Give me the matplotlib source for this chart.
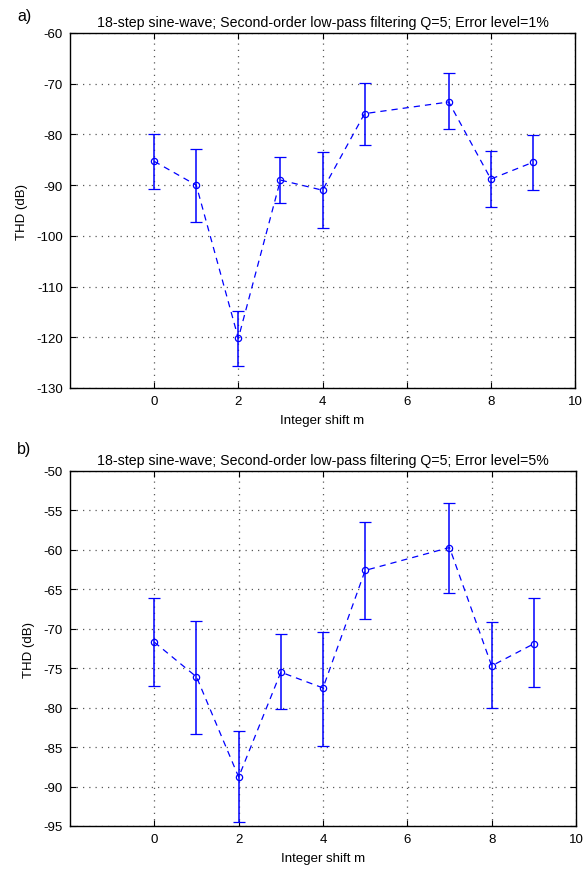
import numpy as np
import matplotlib.pyplot as plt

plt.rcParams['font.family'] = ['Liberation Sans', 'DejaVu Sans']
plt.rcParams['axes.unicode_minus'] = False

# Integer shift m
m = np.array([0, 1, 2, 3, 4, 5, 7, 8, 9])

# a) Error level 1%
thd_a = np.array([-85.3, -90.0, -120.2, -89.0, -91.0, -75.9, -73.6, -88.8, -85.5])
hi_a = np.array([-79.9, -82.9, -114.8, -84.5, -83.5, -69.8, -67.9, -83.3, -80.1])
lo_a = np.array([-90.8, -97.3, -125.7, -93.6, -98.5, -82.1, -79.0, -94.3, -91.0])

# b) Error level 5%
thd_b = np.array([-71.7, -76.1, -88.8, -75.5, -77.5, -62.6, -59.7, -74.7, -71.9])
hi_b = np.array([-66.1, -69.0, -83.0, -70.7, -70.4, -56.5, -54.0, -69.2, -66.1])
lo_b = np.array([-77.3, -83.3, -94.5, -80.2, -84.8, -68.8, -65.5, -80.1, -77.4])

titles = ['18-step sine-wave; Second-order low-pass filtering Q=5; Error level=1%',
          '18-step sine-wave; Second-order low-pass filtering Q=5; Error level=5%']

fig = plt.figure(figsize=(5.86, 8.70), dpi=100)
ax1 = fig.add_axes([70/586, 1-389/870, 505/586, 355/870])
ax2 = fig.add_axes([70/586, 1-827/870, 506/586, 355/870])


def draw(ax, y, lo, hi, title, ylim, yticks):
    ax.errorbar(m, y, yerr=[y - lo, hi - y], fmt='o--', color='blue',
                ecolor='blue', elinewidth=1.1, capsize=4, capthick=1.1,
                markersize=4.5, markerfacecolor='none', markeredgewidth=0.9,
                linewidth=0.9, dashes=(5, 4))
    ax.set_xlim(-2, 10)
    ax.set_ylim(*ylim)
    ax.set_xticks([0, 2, 4, 6, 8, 10])
    ax.set_yticks(yticks)
    ax.grid(True, linestyle=(0, (1, 4)), color='0.35', linewidth=0.9)
    ax.tick_params(direction='in', top=True, right=True, labelsize=9.5,
                   length=4, pad=5)
    for s in ax.spines.values():
        s.set_linewidth(1.0)
    ax.set_title(title, fontsize=10.2, pad=5)
    ax.set_xlabel('Integer shift m', fontsize=9.5, labelpad=5)
    ax.set_ylabel('THD (dB)', fontsize=9.5, labelpad=6)


draw(ax1, thd_a, lo_a, hi_a, titles[0], (-130, -60), np.arange(-130, -59, 10))
draw(ax2, thd_b, lo_b, hi_b, titles[1], (-95, -50), np.arange(-95, -49, 5))

fig.text(17/586, 1-17/870, 'a)', fontsize=11.5, va='center')
fig.text(17/586, 1-450/870, 'b)', fontsize=11.5, va='center')

fig.savefig('out.png', dpi=100)
